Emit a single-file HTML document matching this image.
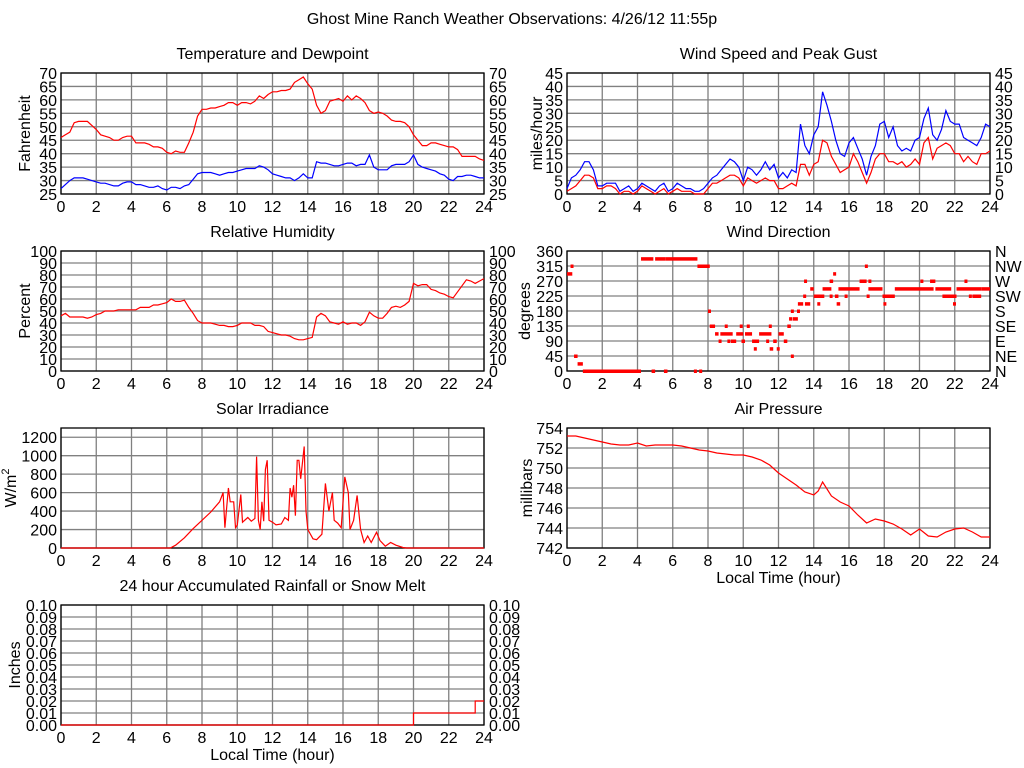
<!DOCTYPE html>
<html><head><meta charset="utf-8"><style>
body{margin:0;background:#fff;}
svg{display:block;font-family:"Liberation Sans",sans-serif;}
</style></head><body>
<svg id="c" width="1024" height="768" viewBox="0 0 1024 768"></svg>
<script>
const tempHours=[];for(let i=0;i<=96;i++)tempHours.push(i*0.25);
const temperature=[46,47,48,51.5,52,52,52,50.5,49,47,46.5,46,45,45,46,46.5,46.5,44,44,44,43.5,42.5,42.5,42,40.5,40,41,40.5,40.5,44,48,54,56.5,56.5,57,57,57.5,58,59,59,58,59,59,58.5,59.5,61.5,60.5,62,63,63,63.5,63.5,64,66.5,67.5,68.5,66,64,58,55,56,59.5,60,60.5,59.5,61.5,60,61.5,60.5,59,56,55,55.5,55,54,52.5,52,52,51.5,50,47,45,43,43,44,44,43.5,43,42.5,42.5,41.5,39,39,39,39,38,37.5];
const dewpoint=[27,28.5,30,31,31,31,30.5,30,29.5,29,29,28.5,28,28,29,29.5,29.5,28.5,28.5,28,27.5,27.5,28,27,26.5,27.5,27.5,27,28,28.5,30.5,32.5,33,33,33,32.5,32,32.5,33,33,33.5,34,34.5,34.5,34.5,35.5,35,34,32.5,32,31.5,31,31,30,31,32.5,31,31,37,36.5,36.5,36,35.5,35.5,36,36.5,36.5,35.5,36,36,39.5,35,34,34,34,35.5,36,36,36,37,39.5,36,35,34.5,34,33.5,32.5,32,30.5,30,31.5,31.5,32,32,31.5,31,31];
const gust=[2,6,7,9,12,12,9,3,3,4,4,4,1,2,3,1,2,4,3,2,1,3,4,1,2,4,3,2,2,1,1,2,4,6,7,9,11,13,12,10,5,10,9,7,9,12,9,11,6,8,6,9,8,26,18,15,22,25,38,33,27,20,15,14,19,21,17,13,7,14,18,26,27,21,25,18,16,17,16,20,21,28,32,22,20,24,31,27,26,26,21,20,19,18,21,26,25];
const windSpeed=[1,2,3,5,7,7,6,2,2,3,3,2,0,1,1,0,1,3,2,1,0,1,2,0,1,2,1,1,1,0,0,0,2,4,4,5,6,7,7,6,3,6,5,4,5,6,5,5,2,2,3,4,3,11,11,7,11,12,20,19,14,11,8,9,10,15,12,8,4,8,13,15,15,12,12,11,12,10,11,13,11,19,21,13,17,18,19,18,15,15,12,14,12,11,15,15,16];
const humidity=[46,48,45,45,45,45,44,45,47,48,50,50,50,51,51,51,51,51,53,53,53,55,55,56,57,60,58,58,59,53,48,42,40,40,40,39,38,38,37,37,38,40,40,40,38,38,37,33,32,31,30,30,29,27,26,26,27,28,45,48,46,41,40,39,41,39,40,40,38,41,49,46,44,44,48,53,54,53,55,58,73,71,72,72,68,67,65,64,62,61,66,71,76,75,73,75,77];
const solarHours=[0,6.2,6.5,7,7.5,8,8.5,9,9.2,9.3,9.5,9.6,9.8,9.9,10,10.2,10.3,10.6,10.8,11,11.1,11.2,11.3,11.4,11.5,11.6,11.7,11.8,12,12.2,12.5,12.7,12.9,13,13.1,13.2,13.3,13.4,13.5,13.6,13.8,13.9,14,14.3,14.5,14.8,15,15.2,15.4,15.5,15.7,15.9,16.1,16.3,16.4,16.6,16.8,17,17.2,17.4,17.6,17.9,18.1,18.4,18.7,19,19.4,19.6,24];
const solar=[0,0,30,110,210,300,390,500,600,220,650,500,500,220,250,580,280,330,290,320,990,300,200,500,290,850,950,300,280,250,260,330,300,650,550,680,350,950,950,750,1100,400,200,100,90,150,700,400,600,300,270,220,770,600,200,300,570,200,60,130,60,170,80,20,60,30,5,0,0];
const pressHours=[0,.5,1,1.5,2,2.5,3,3.5,4,4.5,5,5.5,6,6.5,7,7.5,8,8.5,9,9.5,10,10.5,11,11.5,12,12.5,13,13.5,14,14.25,14.5,15,15.5,16,16.5,17,17.5,18,18.5,19,19.5,20,20.5,21,21.5,22,22.5,23,23.5,24];
const pressure=[753.2,753.2,753,752.8,752.6,752.4,752.3,752.3,752.5,752.2,752.3,752.3,752.3,752.2,752,751.8,751.7,751.5,751.4,751.3,751.3,751.1,750.8,750.3,749.5,748.9,748.3,747.6,747.3,747.7,748.6,747.2,746.6,746.2,745.3,744.5,744.9,744.7,744.4,743.9,743.3,743.9,743.2,743.1,743.6,743.9,744,743.6,743.1,743.1];
const dirStart=[0,0.2,0.4,0.6,0.9,4.2,5.0,5.6,4.8,5.5,7.2,7.5,7.4,8.0,8.1,8.4,8.6,8.7,8.95,9.1,9.3,9.6,9.8,9.9,10.1,10.2,10.5,10.6,10.9,11.3,11.45,11.5,11.7,11.9,12.0,12.3,12.5,12.6,12.7,12.7,12.8,13.05,13.1,13.4,13.45,13.5,13.8,14.0,14.2,14.5,14.9,14.9,15.1,15.2,15.3,15.4,15.75,16.6,16.9,17.0,17.1,17.1,17.9,17.95,18.6,20.05,20.6,20.9,21.3,21.9,22.1,22.55,22.8,23.0,23.5];
const dirEnd=[0.3,0.3,0.6,0.9,4.2,4.9,5.6,7.4,5.0,5.7,7.3,7.6,8.1,8.05,8.4,8.6,8.7,9.4,9.05,9.2,9.6,10.0,9.9,10.1,10.5,10.3,10.9,10.7,11.6,11.4,11.55,11.7,11.9,12.0,12.3,12.5,12.7,12.7,12.8,12.8,13.1,13.15,13.4,13.5,13.55,13.8,14.0,14.6,14.3,15.0,15.0,15.1,15.2,15.4,15.5,16.6,15.85,17.0,17.0,17.1,17.2,17.9,18.6,18.05,20.8,20.15,20.9,21.8,22.1,22.0,23.5,22.65,22.9,23.5,24];
const dirDeg=[292,315,45,22,0,337,337,337,0,0,0,0,315,180,135,112,90,112,135,90,90,112,135,90,112,135,90,67,112,90,135,67,90,67,112,90,135,157,180,45,157,180,202,225,270,202,247,225,202,247,225,270,292,225,202,247,225,270,315,225,270,247,225,202,247,270,270,247,225,202,247,270,225,225,247];
const rainHours=[0,20,20,23.5,23.5,24];
const rain=[0,0,0.01,0.01,0.02,0.02];
const xTicks=[0,2,4,6,8,10,12,14,16,18,20,22,24];

const svg=document.getElementById('c');
const NS='http://www.w3.org/2000/svg';
const FS=16;
function mk(tag,attrs,parent,text){const e=document.createElementNS(NS,tag);for(const k in attrs)e.setAttribute(k,attrs[k]);if(text!==undefined)e.textContent=text;(parent||svg).appendChild(e);return e;}

const t=mk('text',{x:512,y:24,'text-anchor':'middle','font-size':16,fill:'#000'},svg,'Ghost Mine Ranch Weather Observations: 4/26/12 11:55p');



function panel(o){
  const g=mk('g',{});
  
  
  const X=h=>o.x0+(h/24)*(o.x1-o.x0);
  const Y=v=>o.y1-(v-o.ymin)/(o.ymax-o.ymin)*(o.y1-o.y0);
  o.X=X;o.Y=Y;
  const tt=mk('text',{x:(o.x0+o.x1)/2,y:o.y0-14,'text-anchor':'middle','font-size':FS},g,o.title);
  
  
  const grid=mk('g',{stroke:'#808080','stroke-width':1.3},g);
  
  
  xTicks.forEach(h=>{mk('line',{x1:X(h),x2:X(h),y1:o.y0,y2:o.y1},grid);
    const l=mk('text',{x:X(h),y:o.y1+18,'text-anchor':'middle','font-size':FS,fill:'#000',stroke:'none'},g,String(h));
    
    });
  o.yTicks.forEach((v,i)=>{mk('line',{x1:o.x0,x2:o.x1,y1:Y(v),y2:Y(v)},grid);
    const lab=o.yLabels?o.yLabels[i]:String(v);
    const l=mk('text',{x:o.x0-4,y:Y(v)+6,'text-anchor':'end','font-size':FS},g,lab);
    
    
    if(o.right){const r=mk('text',{x:o.x1+5,y:Y(v)+6,'text-anchor':'start','font-size':FS},g,o.right[i]);
      
      }
  });
  const fr=mk('rect',{x:o.x0,y:o.y0,width:o.x1-o.x0,height:o.y1-o.y0,fill:'none',stroke:'#000','stroke-width':1.3},g);
  
  
  const cy=(o.y0+o.y1)/2, ax=o.x0-o.ylw;
  const yt=mk('text',{x:ax,y:cy,'text-anchor':'middle','font-size':FS,transform:`rotate(-90 ${ax} ${cy})`},g);
  yt.textContent=o.ylabel;
  if(o.sup){const s=mk('tspan',{dy:-7,'font-size':11},yt,o.sup);}
  
  
  if(o.xlabel){const xl=mk('text',{x:(o.x0+o.x1)/2,y:o.y1+35,'text-anchor':'middle','font-size':FS},g,o.xlabel);
    
    }
  o.g=g;return o;
}
function line(o,hs,vs,color,name){
  const d=hs.map((h,i)=>(i?'L':'M')+o.X(h).toFixed(1)+','+o.Y(vs[i]).toFixed(1)).join('');
  const p=mk('path',{d:d,fill:'none',stroke:color,'stroke-width':1.2},o.g);
  
  
}
const L=[61,484],R=[567,990];
const s5=n=>{const a=[];for(let v=0;v<=n;v+=5)a.push(v);return a;};
const tv=[25,30,35,40,45,50,55,60,65,70];
const p1=panel({name:'temperature-panel',title:'Temperature and Dewpoint',x0:L[0],x1:L[1],y0:73,y1:194,ymin:25,ymax:70,yTicks:tv,right:tv.map(String),ylabel:'Fahrenheit',ylw:31});
line(p1,tempHours,temperature,'#f00','temperature-line');
line(p1,tempHours,dewpoint,'#00f','dewpoint-line');
const wv=s5(45);
const p2=panel({name:'wind-speed-panel',title:'Wind Speed and Peak Gust',x0:R[0],x1:R[1],y0:73,y1:194,ymin:0,ymax:45,yTicks:wv,right:wv.map(String),ylabel:'miles/hour',ylw:25});
line(p2,tempHours,gust,'#00f','gust-line');
line(p2,tempHours,windSpeed,'#f00','wind-speed-line');
const hv=[0,10,20,30,40,50,60,70,80,90,100];
const p3=panel({name:'humidity-panel',title:'Relative Humidity',x0:L[0],x1:L[1],y0:251,y1:371,ymin:0,ymax:100,yTicks:hv,right:hv.map(String),ylabel:'Percent',ylw:31});
line(p3,tempHours,humidity,'#f00','humidity-line');
const dv=[0,45,90,135,180,225,270,315,360];
const p4=panel({name:'wind-direction-panel',title:'Wind Direction',x0:R[0],x1:R[1],y0:251,y1:371,ymin:0,ymax:360,yTicks:dv,right:['N','NE','E','SE','S','SW','W','NW','N'],ylabel:'degrees',ylw:37});
dirDeg.forEach((d,i)=>{const x=p4.X(dirStart[i]),w=Math.max(3,p4.X(dirEnd[i])-x);
  const r=mk('rect',{x:x,y:p4.Y(d)-1.5,width:w,height:3.5,fill:'#f00'},p4.g);
  
  });
const sv=[0,200,400,600,800,1000,1200];
const p5=panel({name:'solar-panel',title:'Solar Irradiance',x0:L[0],x1:L[1],y0:428,y1:548,ymin:0,ymax:1300,yTicks:sv,ylabel:'W/m',sup:'2',ylw:45});
line(p5,solarHours,solar,'#f00','solar-line');
const pv=[742,744,746,748,750,752,754];
const p6=panel({name:'pressure-panel',title:'Air Pressure',x0:R[0],x1:R[1],y0:428,y1:548,ymin:742,ymax:754,yTicks:pv,ylabel:'millibars',ylw:35,xlabel:'Local Time (hour)'});
line(p6,pressHours,pressure,'#f00','pressure-line');
const rv=[0,0.01,0.02,0.03,0.04,0.05,0.06,0.07,0.08,0.09,0.1];
const p7=panel({name:'rainfall-panel',title:'24 hour Accumulated Rainfall or Snow Melt',x0:L[0],x1:L[1],y0:605,y1:725,ymin:0,ymax:0.1,yTicks:rv,yLabels:rv.map(v=>v.toFixed(2)),right:rv.map(v=>v.toFixed(2)),ylabel:'Inches',ylw:41,xlabel:'Local Time (hour)'});
line(p7,rainHours,rain,'#f00','rainfall-line');
</script>
</body></html>
